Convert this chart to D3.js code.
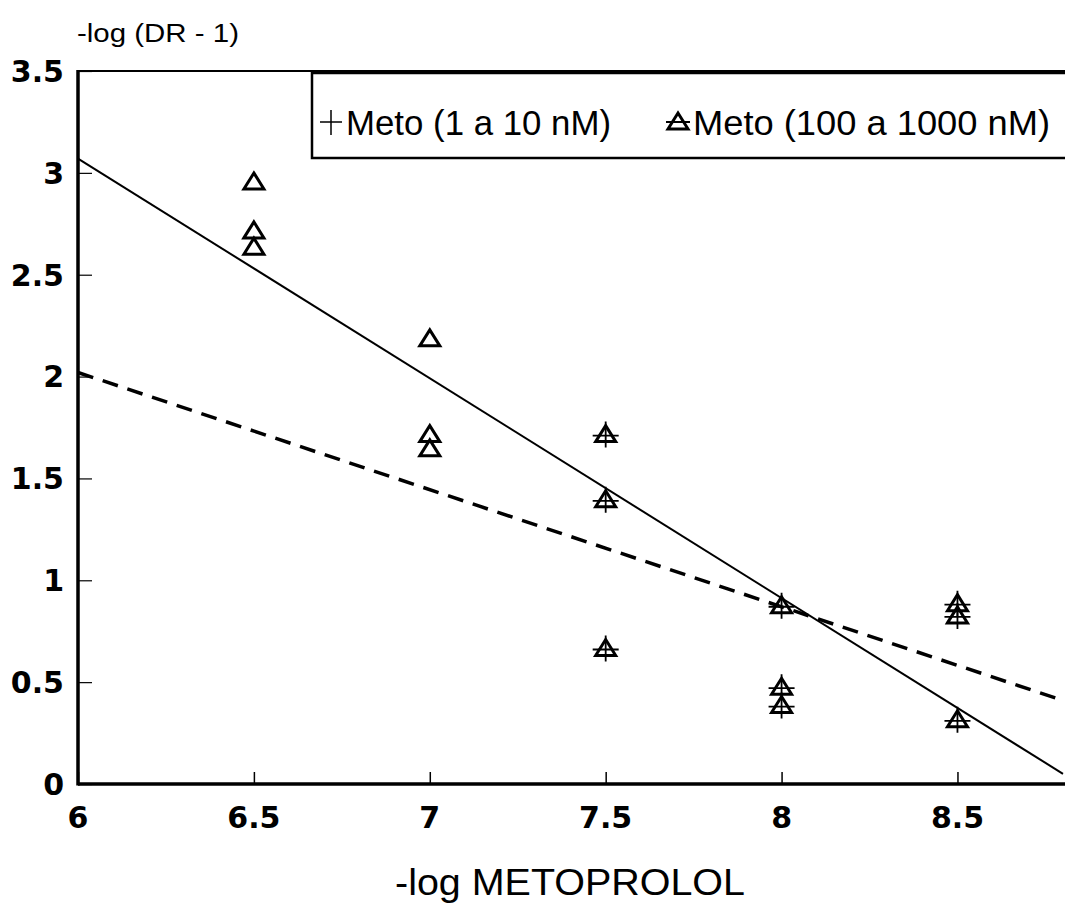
<!DOCTYPE html>
<html>
<head>
<meta charset="utf-8">
<script src="https://cdn.jsdelivr.net/npm/d3@7"></script>
<style>
    body { margin: 0; background: #fff; }
    svg { display: block; }
    .tick-label { font-family: "DejaVu Sans", "Liberation Sans", Arial, sans-serif; font-weight: bold; font-size: 30px; fill: #000; }
    .axis-title { font-family: "Liberation Sans", Arial, sans-serif; fill: #000; }
    .legend-text { font-family: "Liberation Sans", Arial, sans-serif; font-size: 35px; fill: #000; }
</style>
</head>
<body>
<svg id="chart" width="1065" height="905"></svg>
<script>
// -log metoprolol concentrations of the points
const crossX = [7.5, 7.5, 7.5, 8, 8, 8, 8.5, 8.5, 8.5];
const crossY = [1.72, 1.40, 0.67, 0.88, 0.48, 0.39, 0.89, 0.83, 0.32];

const triX = [6.5, 6.5, 6.5, 7, 7, 7, 7.5, 7.5, 7.5, 8, 8, 8, 8.5, 8.5, 8.5];
const triY = [2.96, 2.72, 2.64, 2.19, 1.72, 1.65, 1.72, 1.40, 0.67, 0.88, 0.48, 0.39, 0.89, 0.83, 0.32];

// fitted lines (ends at x = 6 and x = 8.8)
const lineX = [6, 8.8];
const solidY = [3.07, 0.05];
const dashedY = [2.02, 0.41];

const xTicks = [6, 6.5, 7, 7.5, 8, 8.5];
const yTicks = [0, 0.5, 1, 1.5, 2, 2.5, 3, 3.5];

const legendLabels = ['Meto (1 a 10 nM)', 'Meto (100 a 1000 nM)'];

const margin = { top: 71, right: 2, bottom: 121, left: 78 };
const W = 1065;
const H = 905;

const svg = d3.select('#chart');

const x = d3.scaleLinear().domain([6, 8.8]).range([margin.left, W - margin.right]);
const y = d3.scaleLinear().domain([0, 3.5]).range([H - margin.bottom, margin.top]);

const tri = (cx, cy) => {
    const hw = 10, h = 16;
    return `M${cx - hw},${cy + h / 2}L${cx},${cy - h / 2}L${cx + hw},${cy + h / 2}Z`;
};

// frame: top border thin, left and bottom thick
svg.append('line')
    .attr('x1', x(6)).attr('x2', W)
    .attr('y1', y(3.5)).attr('y2', y(3.5))
    .attr('stroke', '#000').attr('stroke-width', 2);

const gx = svg.append('g')
    .attr('transform', `translate(0,${y(0)})`)
    .call(d3.axisBottom(x).tickValues(xTicks).tickSize(-12).tickFormat(''));
gx.select('.domain').remove();
gx.selectAll('.tick line').attr('stroke-width', 1.5);

const gy = svg.append('g')
    .attr('transform', `translate(${x(6)},0)`)
    .call(d3.axisLeft(y).tickValues(yTicks).tickSize(-14).tickFormat(''));
gy.select('.domain').remove();
gy.selectAll('.tick line').attr('stroke-width', 1.2);

svg.append('line')
    .attr('x1', x(6)).attr('x2', W)
    .attr('y1', y(0)).attr('y2', y(0))
    .attr('stroke', '#000').attr('stroke-width', 3.5);
svg.append('line')
    .attr('x1', x(6)).attr('x2', x(6))
    .attr('y1', y(3.5) - 1).attr('y2', y(0) + 1.5)
    .attr('stroke', '#000').attr('stroke-width', 3.5);

// tick labels
svg.selectAll('.xlab').data(xTicks).join('text')
    .attr('class', 'tick-label xlab')
    .attr('x', d => x(d))
    .attr('y', y(0) + 44)
    .attr('text-anchor', 'middle')
    .text(d => d);

svg.selectAll('.ylab').data(yTicks).join('text')
    .attr('class', 'tick-label ylab')
    .attr('x', x(6) - 14)
    .attr('y', d => y(d))
    .attr('dy', '0.36em')
    .attr('text-anchor', 'end')
    .text(d => d);

svg.append('text')
    .attr('class', 'axis-title')
    .attr('x', 395).attr('y', 895)
    .attr('font-size', 37)
    .attr('textLength', 350)
    .attr('lengthAdjust', 'spacingAndGlyphs')
    .text('-log  METOPROLOL');

svg.append('text')
    .attr('class', 'axis-title')
    .attr('x', 77).attr('y', 42)
    .attr('font-size', 25)
    .attr('textLength', 162)
    .attr('lengthAdjust', 'spacingAndGlyphs')
    .text('-log (DR - 1)');

// fitted lines
const lineGen = d3.line().x(d => x(d[0])).y(d => y(d[1]));
svg.append('path')
    .datum(d3.zip(lineX, solidY))
    .attr('d', lineGen)
    .attr('fill', 'none').attr('stroke', '#000').attr('stroke-width', 2);
svg.append('path')
    .datum(d3.zip(lineX, dashedY))
    .attr('d', lineGen)
    .attr('fill', 'none').attr('stroke', '#000').attr('stroke-width', 3.5)
    .attr('stroke-dasharray', '16,10');

// markers
svg.append('g').selectAll('path').data(d3.zip(crossX, crossY)).join('path')
    .attr('d', d => {
        const cx = x(d[0]), cy = y(d[1]) + 2;
        return `M${cx - 13},${cy}H${cx + 13}M${cx},${cy - 14}V${cy + 12}`;
    })
    .attr('stroke', '#000').attr('stroke-width', 1.8).attr('fill', 'none');

svg.append('g').selectAll('path').data(d3.zip(triX, triY)).join('path')
    .attr('d', d => tri(x(d[0]), y(d[1])))
    .attr('stroke', '#000').attr('stroke-width', 3).attr('fill', 'none')
    .attr('stroke-linejoin', 'miter');

// legend
const lg = svg.append('g');
lg.append('rect')
    .attr('x', 312).attr('y', 73)
    .attr('width', W - 312 + 5).attr('height', 85)
    .attr('fill', '#fff').attr('stroke', '#000').attr('stroke-width', 2.5);

const lx = [331, 678];
const lw = [265, 357];
lg.append('path')
    .attr('d', `M${lx[0] - 11},122H${lx[0] + 11}M${lx[0]},110V135`)
    .attr('stroke', '#000').attr('stroke-width', 1.5);
lg.append('path')
    .attr('d', `M${lx[1] - 12},122H${lx[1] + 12}`)
    .attr('stroke', '#000').attr('stroke-width', 2);
lg.append('path')
    .attr('d', tri(lx[1], 121))
    .attr('stroke', '#000').attr('stroke-width', 3).attr('fill', 'none');

lg.selectAll('text').data(legendLabels).join('text')
    .attr('class', 'legend-text')
    .attr('x', (d, i) => lx[i] + 15)
    .attr('y', 135)
    .attr('textLength', (d, i) => lw[i])
    .attr('lengthAdjust', 'spacingAndGlyphs')
    .text(d => d);
</script>
</body>
</html>
